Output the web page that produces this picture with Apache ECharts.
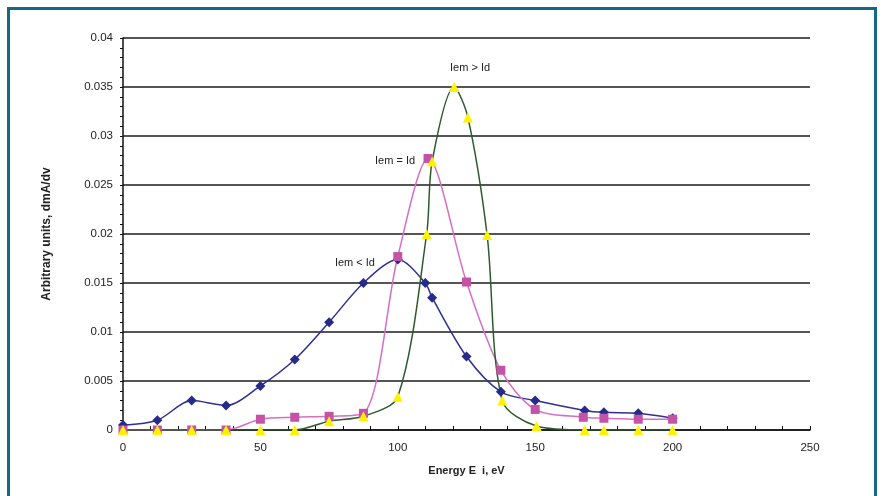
<!DOCTYPE html>
<html>
<head>
<meta charset="utf-8">
<script src="https://cdn.jsdelivr.net/npm/echarts@6/dist/echarts.min.js"></script>
<style>
html,body{margin:0;padding:0;background:#fff;}
#frame{position:absolute;left:7px;top:7px;width:870px;height:500px;border:3px solid #17678a;box-sizing:border-box;}
#chart{position:absolute;left:0;top:0;width:883px;height:496px;}
</style>
</head>
<body>
<div id="frame"></div>
<div id="chart"></div>
<script>
// Blue series (Iem < Id)
const blueX = [0, 12.5, 25, 37.5, 50, 62.5, 75, 87.5, 100, 110, 112.5, 125, 137.5, 150, 168, 175, 187.5, 200];
const blueY = [0.0005, 0.001, 0.003, 0.0025, 0.0045, 0.0072, 0.011, 0.015, 0.0174, 0.015, 0.0135, 0.0075, 0.0039, 0.003, 0.002, 0.0018, 0.0017, 0.0012];
// Pink series (Iem = Id)
const pinkX = [0, 12.5, 25, 37.5, 50, 62.5, 75, 87.5, 100, 111, 125, 137.5, 150, 167.5, 175, 187.5, 200];
const pinkY = [0, 0, 0, 0, 0.0011, 0.0013, 0.0014, 0.0017, 0.0177, 0.0277, 0.0151, 0.0061, 0.0021, 0.0013, 0.0012, 0.0011, 0.0011];
// Green series with yellow triangles (Iem > Id)
const greenX = [0, 12.5, 25, 37.5, 50, 62.5, 75, 87.5, 100, 110.5, 112.5, 120.5, 125.5, 132.5, 138, 150.5, 168, 175, 187.5, 200];
const greenY = [0, 0, 0, 0, 0, 0, 0.0009, 0.0014, 0.0034, 0.02, 0.0274, 0.035, 0.0319, 0.0199, 0.003, 0.0004, 0, 0, 0, 0];
// Axis ticks
const yTicks = [0, 0.005, 0.01, 0.015, 0.02, 0.025, 0.03, 0.035, 0.04];
const xTicks = [0, 50, 100, 150, 200, 250];
// Annotations
const notes = [
  {text: 'Iem > Id', x: 126.3, y: 0.0369},
  {text: 'Iem = Id', x: 99, y: 0.0275},
  {text: 'Iem < Id', x: 84.4, y: 0.017}
];

function zip(xs, ys){ return xs.map((x,i)=>[x, ys[i]]); }

const chart = echarts.init(document.getElementById('chart'));
const font = 'Liberation Sans, Arial, sans-serif';
chart.setOption({
  animation: false,
  grid: {left: 123, top: 38, right: 73, bottom: 66, containLabel: false},
  xAxis: {
    type: 'value', min: 0, max: 250, interval: 50,
    name: 'Energy E  i, eV', nameLocation: 'middle', nameGap: 35,
    nameTextStyle: {fontFamily: font, fontSize: 11, fontWeight: 'bold', color: '#222'},
    axisLine: {show: true, lineStyle: {color: '#111', width: 1.5}},
    axisTick: {show: true, inside: true, length: 4, lineStyle: {color: '#111'}},
    minorTick: {show: true, splitNumber: 5, length: 4, lineStyle: {color: '#111'}},
    axisLabel: {fontFamily: font, fontSize: 11.5, color: '#222', margin: 12},
    splitLine: {show: false}
  },
  yAxis: {
    type: 'value', min: 0, max: 0.04, interval: 0.005,
    name: 'Arbitrary units, dmA/dv', nameLocation: 'middle', nameGap: 70, nameRotate: 90,
    nameTextStyle: {fontFamily: font, fontSize: 12, fontWeight: 'bold', color: '#222'},
    axisLine: {show: true, lineStyle: {color: '#111', width: 1.5}},
    axisTick: {show: true, inside: false, length: 3, lineStyle: {color: '#111'}},
    minorTick: {show: true, splitNumber: 5, length: 3, lineStyle: {color: '#111'}},
    axisLabel: {fontFamily: font, fontSize: 11.5, color: '#222', margin: 10,
      formatter: v => { const t = yTicks.find(k => Math.abs(k - v) < 1e-9); return String(t !== undefined ? t : v); }},
    splitLine: {show: true, lineStyle: {color: '#555', width: 2}}
  },
  series: [
    {
      type: 'line', data: zip(blueX, blueY), smooth: 0.3,
      symbol: 'diamond', symbolSize: 10,
      lineStyle: {color: '#2e3192', width: 1.5},
      itemStyle: {color: '#262a8a'},
      markPoint: {
        symbol: 'circle', symbolSize: 0,
        label: {show: true, position: 'inside', fontFamily: font, fontSize: 11, color: '#222', formatter: p => p.name},
        data: notes.map(n => ({name: n.text, coord: [n.x, n.y]}))
      }
    },
    {
      type: 'line', data: zip(pinkX, pinkY), smooth: 0.3,
      symbol: 'rect', symbolSize: 9,
      lineStyle: {color: '#d66fc4', width: 1.5},
      itemStyle: {color: '#c452a6'}
    },
    {
      type: 'line', data: zip(greenX, greenY), smooth: 0.3,
      symbol: 'triangle', symbolSize: 10,
      lineStyle: {color: '#2d5a2d', width: 1.5},
      itemStyle: {color: '#fff200'}
    }
  ]
});
</script>
</body>
</html>
